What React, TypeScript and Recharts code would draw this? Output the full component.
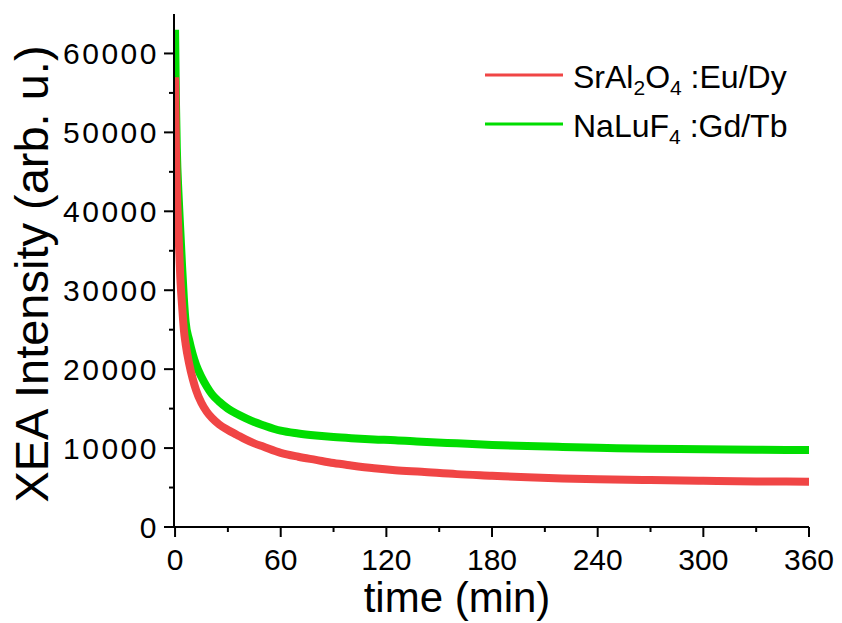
import React from "react";
import { LineChart, Line, XAxis, YAxis, Legend } from "recharts";

// afterglow decay
const timeMin = [0, 0.5, 1, 2, 3, 4, 5, 6, 8, 10, 12, 15, 18, 21, 25, 30, 35, 40, 45, 50, 60, 70, 80, 90, 100, 113, 125, 140, 160, 180, 200, 220, 240, 270, 300, 330, 360];
const srAlValues = [57000, 48000, 43000, 37000, 31500, 28000, 25000, 23200, 20700, 18800, 17300, 15700, 14600, 13800, 13000, 12300, 11700, 11100, 10600, 10200, 9400, 8900, 8500, 8100, 7800, 7450, 7200, 7000, 6700, 6500, 6300, 6160, 6050, 5950, 5850, 5780, 5740];
const naLuValues = [63000, 54000, 48000, 42000, 37500, 33000, 29000, 26000, 23700, 21900, 20500, 19000, 17800, 16800, 15900, 15000, 14350, 13800, 13300, 12900, 12200, 11850, 11600, 11400, 11250, 11100, 11000, 10800, 10600, 10400, 10250, 10150, 10050, 9900, 9850, 9780, 9750];

const xTicks = [0, 30, 60, 90, 120, 150, 180, 210, 240, 270, 300, 330, 360];
const yTicks = [0, 5000, 10000, 15000, 20000, 25000, 30000, 35000, 40000, 45000, 50000, 55000, 60000];

const data = timeMin.map((t, i) => ({ t, sr: srAlValues[i], na: naLuValues[i] }));

const FONT = "'Liberation Sans', Arial, Helvetica, sans-serif";
const RED = "#f04545";
const GREEN = "#00dd00";

function XTick(props: any) {
  const { x, y, payload } = props;
  const major = payload.value % 60 === 0;
  return (
    <g>
      <line x1={x} y1={y} x2={x} y2={y + (major ? 10 : 5)} stroke="#000" strokeWidth={2} />
      {major && (
        <text x={x} y={y + 43} textAnchor="middle" fontSize={30} fontFamily={FONT} fill="#000">
          {payload.value}
        </text>
      )}
    </g>
  );
}

function YTick(props: any) {
  const { x, y, payload } = props;
  const major = payload.value % 10000 === 0;
  return (
    <g>
      <line x1={x} y1={y} x2={x - (major ? 10 : 5)} y2={y} stroke="#000" strokeWidth={2} />
      {major && (
        <text x={x - 15} y={y + 10.5} textAnchor="end" fontSize={30} letterSpacing={2.5} fontFamily={FONT} fill="#000">
          {payload.value}
        </text>
      )}
    </g>
  );
}

function YTitle() {
  return (
    <text x={48} y={274} transform="rotate(-90 48 274)" textAnchor="middle" fontSize={47} fontFamily={FONT} fill="#000">
      XEA Intensity (arb. u.)
    </text>
  );
}

function XTitle() {
  return (
    <text x={457} y={612} textAnchor="middle" fontSize={42} fontFamily={FONT} fill="#000">
      time (min)
    </text>
  );
}

const legendRows = [
  { key: "sr", main: "SrAl", sub1: "2", mid: "O", sub2: "4", tail: " :Eu/Dy" },
  { key: "na", main: "NaLuF", sub1: "4", mid: "", sub2: "", tail: " :Gd/Tb" },
];

function LegendBox({ payload }: any) {
  const colorOf = (k: string) => (payload || []).find((p: any) => p.dataKey === k)?.color || (k === "sr" ? RED : GREEN);
  return (
    <svg width={340} height={110} style={{ display: "block" }}>
      {legendRows.map((r, i) => {
        const ly = 30 + i * 49;
        return (
          <g key={r.key}>
            <line x1={15} x2={93} y1={ly} y2={ly} stroke={colorOf(r.key)} strokeWidth={3} />
            <text x={103} y={ly + 13} fontSize={32} fontFamily={FONT} fill="#000">
              <tspan>{r.main}</tspan>
              <tspan dy={7} fontSize={21}>{r.sub1}</tspan>
              {r.mid ? <tspan dy={-7}>{r.mid}</tspan> : null}
              {r.sub2 ? <tspan dy={7} fontSize={21}>{r.sub2}</tspan> : null}
              <tspan dy={-7}>{r.tail}</tspan>
            </text>
          </g>
        );
      })}
    </svg>
  );
}

export default function App() {
  return (
    <div style={{ position: "absolute", left: 0, top: 0, width: 842, height: 623, background: "#fff" }}>
      <LineChart width={842} height={623} data={data} margin={{ top: 14, right: 33, left: 0, bottom: 0 }}>
        <XAxis
          dataKey="t"
          type="number"
          domain={[-0.6, 360]}
          ticks={xTicks}
          interval={0}
          height={96}
          tickSize={0}
          tickMargin={0}
          tickLine={false}
          tick={<XTick />}
          axisLine={{ stroke: "#000", strokeWidth: 2 }}
          allowDataOverflow
          label={<XTitle />}
        />
        <XAxis xAxisId="top" orientation="top" dataKey="t" type="number" domain={[-0.6, 360]} height={0} tick={false} tickLine={false} axisLine={{ stroke: "#000", strokeWidth: 2 }} allowDataOverflow />
        <YAxis
          type="number"
          domain={[0, 65000]}
          ticks={yTicks}
          interval={0}
          width={174}
          tickSize={0}
          tickMargin={0}
          tickLine={false}
          tick={<YTick />}
          axisLine={{ stroke: "#000", strokeWidth: 2 }}
          allowDataOverflow
          label={<YTitle />}
        />
        <YAxis yAxisId="right" orientation="right" type="number" domain={[0, 65000]} width={0} tick={false} tickLine={false} axisLine={{ stroke: "#000", strokeWidth: 2 }} allowDataOverflow />
        <Legend
          layout="vertical"
          verticalAlign="middle"
          align="center"
          wrapperStyle={{ position: "absolute", left: 470, top: 45, width: 340, height: 110 }}
          content={(p: any) => <LegendBox payload={p.payload} />}
        />
        <Line type="monotone" dataKey="na" name="NaLuF4:Gd/Tb" stroke={GREEN} strokeWidth={8} dot={false} isAnimationActive={false} />
        <Line type="monotone" dataKey="sr" name="SrAl2O4:Eu/Dy" stroke={RED} strokeWidth={8} dot={false} isAnimationActive={false} />
      </LineChart>
    </div>
  );
}
